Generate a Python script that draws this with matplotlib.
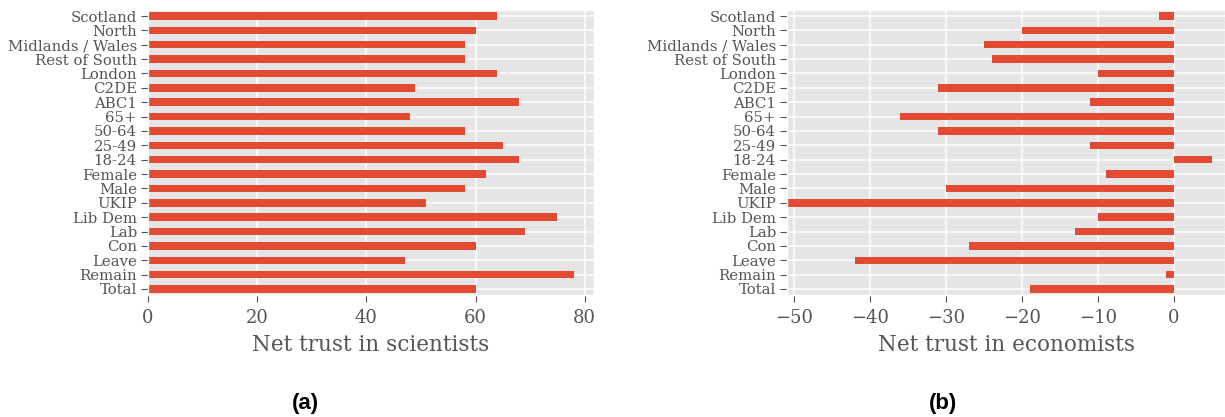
import matplotlib
matplotlib.use('Agg')
import matplotlib.pyplot as plt
import numpy as np

groups = ['Total', 'Remain', 'Leave', 'Con', 'Lab', 'Lib Dem', 'UKIP', 'Male', 'Female',
          '18-24', '25-49', '50-64', '65+', 'ABC1', 'C2DE', 'London', 'Rest of South',
          'Midlands / Wales', 'North', 'Scotland']
scientists = [60, 78, 47, 60, 69, 75, 51, 58, 62, 68, 65, 58, 48, 68, 49, 64, 58, 58, 60, 64]
economists = [-19, -1, -42, -27, -13, -10, -51, -30, -9, 5, -11, -31, -36, -11, -31, -10, -24, -25, -20, -2]

plt.style.use('ggplot')
plt.rcParams['font.family'] = 'DejaVu Serif'

bar_color = '#E24A33'
grey_text = '#555555'

fig = plt.figure(figsize=(12.25, 4.17), dpi=100)
ax1 = fig.add_axes([148 / 1225, 1 - 295 / 417, 446 / 1225, 285 / 417])
ax2 = fig.add_axes([787 / 1225, 1 - 295 / 417, 438 / 1225, 285 / 417])

pos = np.arange(len(groups))
for ax, vals, xlabel in [(ax1, scientists, 'Net trust in scientists'),
                         (ax2, economists, 'Net trust in economists')]:
    ax.barh(pos, vals, height=0.52, color=bar_color, zorder=2)
    ax.set_yticks(pos)
    ax.set_yticklabels(groups)
    ax.set_ylim(-0.42, len(groups) - 1 + 0.42)
    ax.tick_params(axis='y', labelsize=10.7, colors=grey_text, length=5, pad=3)
    ax.tick_params(axis='x', labelsize=13, colors=grey_text, length=5, pad=5)
    ax.set_xlabel(xlabel, fontsize=15.5, color=grey_text, labelpad=5)
    ax.grid(True, color='white', linewidth=1.1)
    ax.set_axisbelow(True)

ax1.set_xlim(0, 81.7)
ax1.set_xticks([0, 20, 40, 60, 80])
ax2.set_xlim(-50.9, 6.7)
ax2.set_xticks([-50, -40, -30, -20, -10, 0])

fig.text(305 / 1225, 1 - 403 / 417, '(a)', ha='center', va='center',
         fontsize=16, fontweight='bold', family='Liberation Sans')
fig.text(943 / 1225, 1 - 403 / 417, '(b)', ha='center', va='center',
         fontsize=16, fontweight='bold', family='Liberation Sans')

fig.savefig('out.png', dpi=100)
